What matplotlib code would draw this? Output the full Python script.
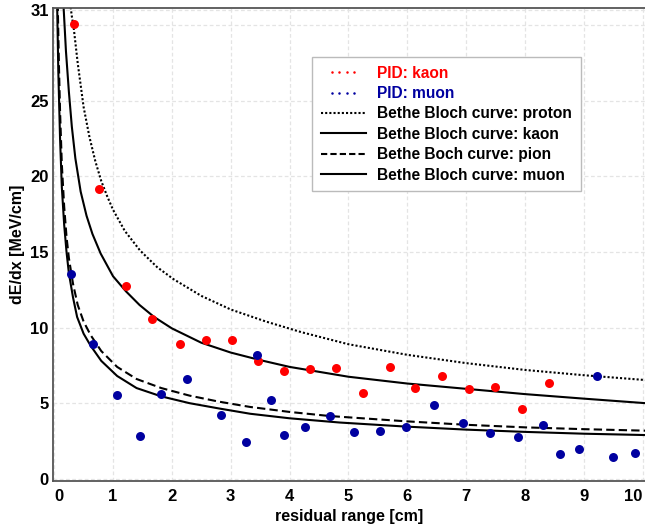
import matplotlib
matplotlib.use("Agg")
import matplotlib.pyplot as plt
from matplotlib.lines import Line2D
from matplotlib.legend_handler import HandlerLine2D

plt.rcParams['font.family'] = ['Liberation Sans', 'DejaVu Sans']

# PID points
kaon_x = [0.33, 0.77, 1.22, 1.66, 2.13, 2.58, 3.02, 3.47, 3.90, 4.34, 4.79, 5.24, 5.70, 6.14, 6.59, 7.05, 7.49, 7.95, 8.41]
kaon_y = [30.1, 19.16, 12.75, 10.55, 8.9, 9.16, 9.16, 7.77, 7.13, 7.28, 7.30, 5.65, 7.37, 6.02, 6.77, 5.93, 6.09, 4.59, 6.35]

muon_x = [0.29, 0.66, 1.07, 1.46, 1.82, 2.25, 2.83, 3.26, 3.45, 3.68, 3.90, 4.27, 4.68, 5.10, 5.54, 5.98, 6.46, 6.94, 7.41, 7.88, 8.31, 8.60, 8.91, 9.23, 9.49, 9.87]
muon_y = [13.57, 8.89, 5.54, 2.84, 5.60, 6.60, 4.23, 2.42, 8.21, 5.18, 2.89, 3.40, 4.12, 3.11, 3.15, 3.40, 4.87, 3.66, 3.04, 2.73, 3.57, 1.63, 1.98, 6.79, 1.43, 1.68]

# Bethe-Bloch curves
proton_x = [0.28, 0.30, 0.33, 0.40, 0.50, 0.60, 0.70, 0.80, 0.90, 1.00, 1.20, 1.46, 1.75, 2.03, 2.50, 3.00, 3.60, 4.20, 5.00, 6.00, 7.00, 8.00, 9.00, 10.05]
proton_y = [31.2, 30.6, 29.9, 27.5, 24.6, 22.6, 21.0, 19.7, 18.7, 17.8, 16.4, 15.1, 14.0, 13.2, 12.1, 11.2, 10.4, 9.7, 8.9, 8.2, 7.65, 7.2, 6.85, 6.53]

kaon_cx = [0.16, 0.20, 0.25, 0.30, 0.36, 0.45, 0.55, 0.65, 0.79, 1.00, 1.22, 1.45, 1.70, 2.00, 2.50, 3.00, 3.50, 4.00, 5.00, 6.00, 7.00, 8.00, 9.00, 10.05]
kaon_cy = [31.2, 28.3, 25.6, 23.3, 21.2, 19.0, 17.4, 16.2, 14.9, 13.4, 12.4, 11.5, 10.7, 9.95, 9.0, 8.35, 7.85, 7.4, 6.75, 6.3, 5.95, 5.6, 5.3, 5.0]

pion_cx = [0.06, 0.08, 0.10, 0.13, 0.17, 0.21, 0.25, 0.32, 0.40, 0.50, 0.62, 0.80, 1.07, 1.40, 1.82, 2.30, 2.80, 3.33, 4.00, 4.68, 5.98, 7.00, 8.00, 9.00, 10.05]
pion_cy = [31.5, 27.5, 24.3, 20.8, 18.0, 16.0, 14.6, 12.9, 11.5, 10.4, 9.5, 8.45, 7.4, 6.6, 6.0, 5.5, 5.1, 4.75, 4.42, 4.15, 3.8, 3.57, 3.4, 3.28, 3.18]

muon_cx = [0.05, 0.07, 0.10, 0.13, 0.17, 0.21, 0.25, 0.32, 0.39, 0.50, 0.62, 0.80, 1.07, 1.40, 1.82, 2.30, 2.80, 3.33, 4.00, 4.85, 5.98, 7.00, 8.00, 9.00, 10.05]
muon_cy = [31.5, 27.0, 22.5, 19.3, 16.8, 15.0, 13.6, 12.0, 10.7, 9.6, 8.8, 7.8, 6.8, 6.0, 5.45, 5.0, 4.65, 4.3, 4.0, 3.72, 3.45, 3.25, 3.1, 2.98, 2.89]

x_ticks = [0, 1, 2, 3, 4, 5, 6, 7, 8, 9, 10]
y_ticks = [0, 5, 10, 15, 20, 25, 31]

fig = plt.figure(figsize=(6.45, 5.28), dpi=100)
ax = fig.add_axes([53 / 645, 47 / 528, 1 - 53 / 645, (481 - 8) / 528])

ax.set_xlim(-0.02, 10.04)
ax.set_ylim(-0.15, 31.15)

LW = 1.5
ax.plot(proton_x, proton_y, color='black', lw=LW, ls=(0, (1, 1)), zorder=2)
ax.plot(kaon_cx, kaon_cy, color='black', lw=LW, ls='-', zorder=2)
ax.plot(pion_cx, pion_cy, color='black', lw=LW, ls=(0, (4, 2)), zorder=2)
ax.plot(muon_cx, muon_cy, color='black', lw=LW, ls='-', zorder=2)

ax.scatter(kaon_x, kaon_y, s=42, color='#ff0000', zorder=3, linewidths=0)
ax.scatter(muon_x, muon_y, s=42, color='#0000a0', zorder=3, linewidths=0)

ax.set_xticks(x_ticks)
ax.set_yticks(y_ticks)
ax.set_yticks([30], minor=True)
ax.tick_params(axis='both', which='both', length=0, labelsize=12)
ax.tick_params(axis='x', pad=6)
ax.tick_params(axis='y', pad=3)
ax.tick_params(axis='y', which='minor', labelleft=False)
for lab in ax.get_xticklabels() + ax.get_yticklabels():
    lab.set_fontweight('bold')
xl = ax.get_xticklabels()
xl[0].set_horizontalalignment('left')
xl[-1].set_horizontalalignment('right')

ax.grid(True, which='both', color='#e4e4e4', lw=0.9, ls=(0, (3, 2)))
ax.set_axisbelow(True)

for side in ['left', 'bottom', 'top']:
    ax.spines[side].set_color('#555555')
    ax.spines[side].set_linewidth(1.3)
ax.spines['right'].set_visible(False)

ax.set_xlabel('residual range [cm]', fontsize=11.5, fontweight='bold', labelpad=3)
ax.set_ylabel('dE/dx [MeV/cm]', fontsize=11.5, fontweight='bold', labelpad=4)

handles = [
    Line2D([], [], color='#ff0000', ls='none', marker='o', ms=1.8, mew=0),
    Line2D([], [], color='#0000a0', ls='none', marker='o', ms=1.8, mew=0),
    Line2D([], [], color='black', lw=LW, ls=(0, (1, 1))),
    Line2D([], [], color='black', lw=LW, ls='-'),
    Line2D([], [], color='black', lw=LW, ls=(0, (3, 1.5))),
    Line2D([], [], color='black', lw=LW, ls='-'),
]
labels = ['PID: kaon', 'PID: muon', 'Bethe Bloch curve: proton',
          'Bethe Bloch curve: kaon', 'Bethe Boch curve: pion',
          'Bethe Bloch curve: muon']
pid_handler = HandlerLine2D(numpoints=4, marker_pad=0.72)
leg = ax.legend(handles, labels, loc='upper left',
                bbox_to_anchor=((312 - 53) / 592, (481 - 57) / 473),
                borderaxespad=0,
                handler_map={handles[0]: pid_handler, handles[1]: pid_handler},
                frameon=True, fancybox=False, edgecolor='#bbbbbb', framealpha=1,
                prop={'weight': 'bold', 'size': 11.2}, handlelength=2.9, handletextpad=0.75,
                labelspacing=0.35, borderpad=0.55)
leg.get_frame().set_linewidth(1.0)
texts = leg.get_texts()
texts[0].set_color('#ff0000')
texts[1].set_color('#0000a0')

fig.savefig('out.png', dpi=100)
